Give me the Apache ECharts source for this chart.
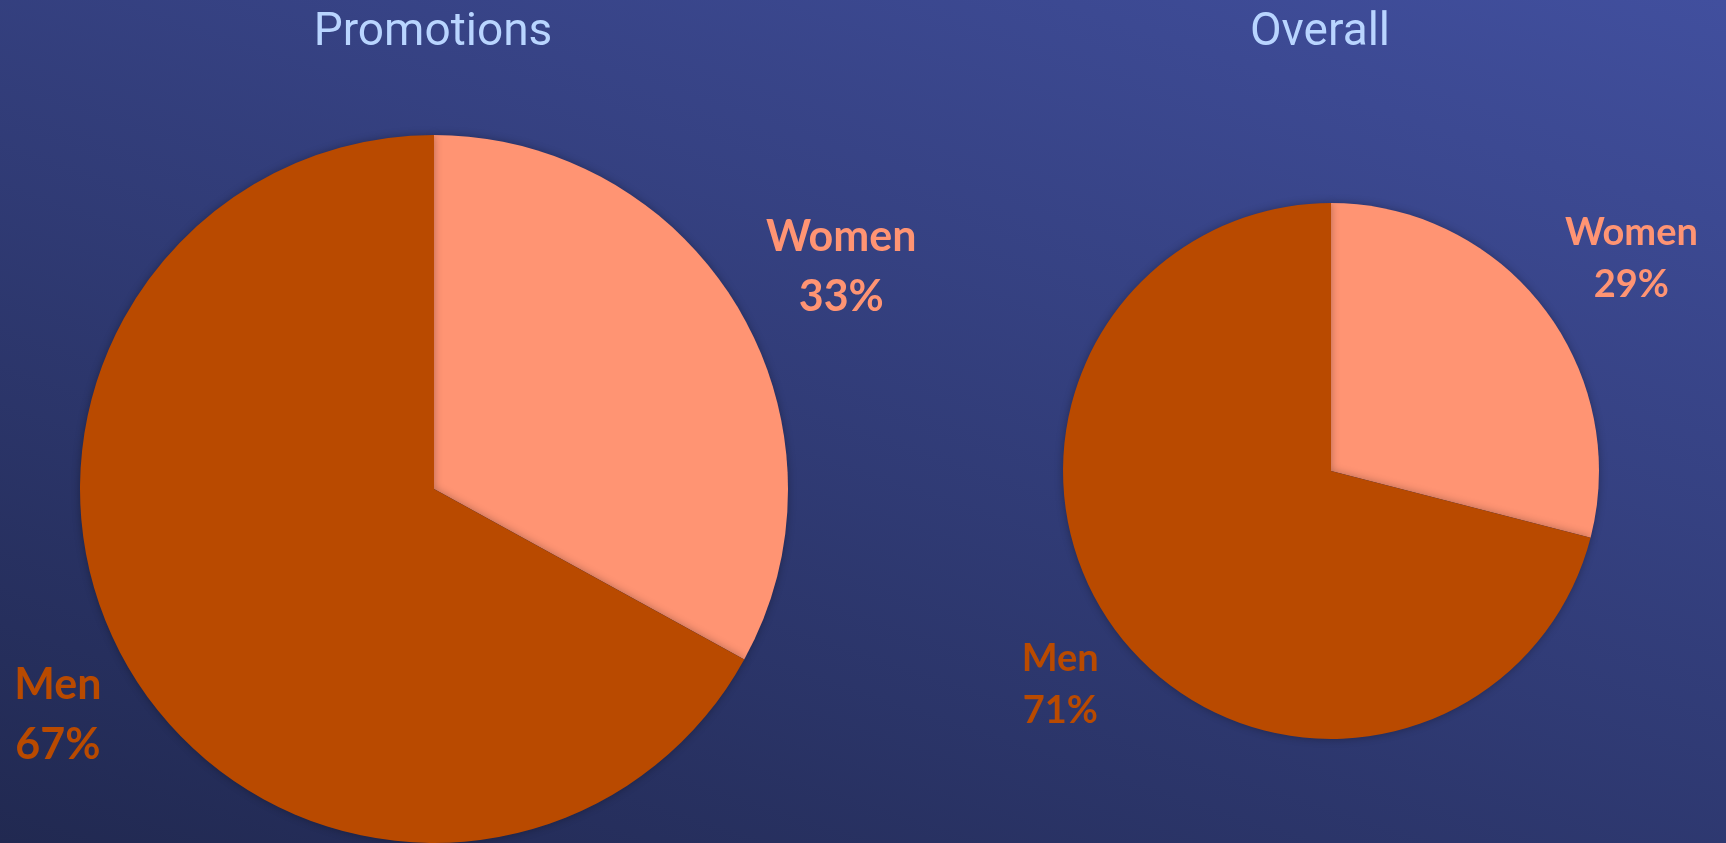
<!DOCTYPE html>
<html>
<head>
    <meta charset="utf-8">
    <title>Promotions vs Overall</title>
    <script src="https://cdn.jsdelivr.net/npm/echarts@6/dist/echarts.min.js"></script>
    <style>
        html, body { margin: 0; padding: 0; }
        #main { width: 1726px; height: 843px; }
    </style>
</head>
<body>
<div id="main"></div>
<script type="text/javascript">
    // data
    var groups = ['Women', 'Men'];
    var promotionsShare = [33, 67];
    var overallShare = [29, 71];
    var chartTitles = ['Promotions', 'Overall'];

    var colors = ['#ff9473', '#b94a00'];

    function buildData(values) {
        return groups.map(function (g, i) {
            return { name: g, value: values[i] };
        });
    }

    function pieSeries(values, center, radius, fontSize, lineH, lines) {
        var data = buildData(values);
        // per-slice label distance (women / men)
        data[0].labelLine = { show: false, length: lines[0][0], length2: lines[0][1] };
        data[1].labelLine = { show: false, length: lines[1][0], length2: lines[1][1] };
        return {
            type: 'pie',
            center: center,
            radius: radius,
            startAngle: 90,
            clockwise: true,
            avoidLabelOverlap: false,
            silent: true,
            animation: false,
            data: data,
            itemStyle: {
                shadowBlur: 8,
                shadowColor: 'rgba(0,0,0,0.3)'
            },
            label: {
                show: true,
                position: 'outside',
                formatter: '{b}\n{c}%',
                fontFamily: 'Lato',
                fontWeight: 'bold',
                fontSize: fontSize,
                lineHeight: lineH,
                align: 'center',
                color: 'inherit'
            },
            labelLayout: function () {
                return { align: 'center' };
            }
        };
    }

    var titleStyle = { color: '#b9d5ff', fontFamily: 'Roboto', fontWeight: 'normal', fontSize: 46 };

    var myChart = echarts.init(document.getElementById('main'));
    var option = {
        backgroundColor: {
            type: 'linear',
            global: true,
            x: 0, y: 843, x2: 425, y2: -433,
            colorStops: [
                { offset: 0, color: '#212951' },
                { offset: 1, color: '#414f9e' }
            ]
        },
        color: colors,
        title: [{
            text: chartTitles[0],
            left: 428,
            top: 5,
            textAlign: 'center',
            textStyle: titleStyle
        }, {
            text: chartTitles[1],
            left: 1315,
            top: 5,
            textAlign: 'center',
            textStyle: titleStyle
        }],
        series: [
            pieSeries(promotionsShare, [434, 489], 354, 43, 60, [[82, 27], [90, -11]]),
            pieSeries(overallShare, [1331, 471], 268, 38, 52, [[78, 22], [81, -10]])
        ]
    };
    myChart.setOption(option);
</script>
</body>
</html>
